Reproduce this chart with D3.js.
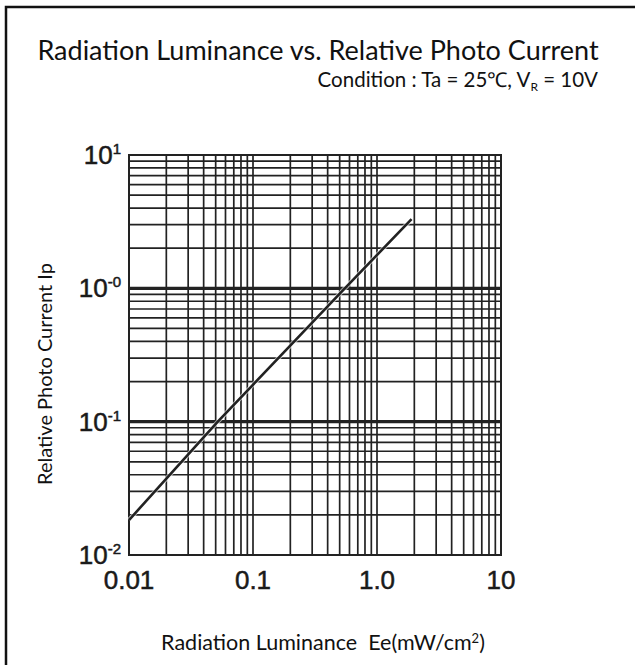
<!DOCTYPE html>
<html lang="en">

<head>
    <meta charset="UTF-8">
    <title>Radiation Luminance vs. Relative Photo Current</title>
    <style>
        body {
            margin: 0;
            background: #fff;
        }

        .title {
            font-family: Lato, "Open Sans", sans-serif;
            fill: #111;
        }

        .tick-label {
            font-family: Arial, "Liberation Sans", Helvetica, "DejaVu Sans", sans-serif;
            fill: #1a1a1a;
            stroke: #1a1a1a;
            stroke-width: 0.5;
        }
    </style>
</head>

<body>
    <svg id="chart" width="635" height="665"></svg>
    <script src="https://d3js.org/d3.v7.min.js"></script>

    <script>
        // data
        const luminance = [0.01, 0.052, 0.55, 1.9];      // Ee (mW/cm2)
        const photoCurrent = [0.0183, 0.1, 1.0, 3.3];   // relative Ip

        const xTickValues = [0.01, 0.1, 1, 10];
        const xTickLabels = ["0.01", "0.1", "1.0", "10"];
        const yTickValues = [10, 1, 0.1, 0.01];
        const yTickExp = ["1", "-0", "-1", "-2"];

        const svg = d3.select("#chart");
        const width = +svg.attr("width");
        const height = +svg.attr("height");

        // plot box
        const margin = { top: 155, right: 134, bottom: 110, left: 129 };
        const innerWidth = width - margin.left - margin.right;
        const innerHeight = height - margin.top - margin.bottom;

        // outer frame (left + top)
        svg.append("path")
            .attr("d", `M6,${height} L6,7 L${width},7`)
            .attr("fill", "none")
            .attr("stroke", "#111")
            .attr("stroke-width", 2.5);

        // titles
        svg.append("text")
            .attr("class", "title")
            .attr("x", 318)
            .attr("y", 60)
            .attr("text-anchor", "middle")
            .attr("font-size", 27)
            .text("Radiation Luminance vs. Relative Photo Current");

        const cond = svg.append("text")
            .attr("class", "title")
            .attr("x", 598)
            .attr("y", 87)
            .attr("text-anchor", "end")
            .attr("font-size", 20.5);
        cond.append("tspan").text("Condition : Ta = 25\u2103, V");
        cond.append("tspan").attr("font-size", 12).attr("dy", 4).text("R");
        cond.append("tspan").attr("dy", -4).text(" = 10V");

        // axis titles
        svg.append("text")
            .attr("class", "title")
            .attr("font-size", 20)
            .attr("text-anchor", "middle")
            .attr("transform", "translate(52, 374) rotate(-90)")
            .text("Relative Photo Current Ip");

        const xt = svg.append("text")
            .attr("class", "title")
            .attr("x", 323)
            .attr("y", 650)
            .attr("text-anchor", "middle")
            .attr("font-size", 21.5);
        xt.append("tspan").text("Radiation Luminance\u00a0\u00a0Ee(mW/cm");
        xt.append("tspan").attr("font-size", 13).attr("dy", -7).text("2");
        xt.append("tspan").attr("dy", 7).text(")");

        const box = svg.append("g")
            .attr("transform", `translate(${margin.left}, ${margin.top})`);

        const x = d3.scaleLog().domain([0.01, 10]).range([0, innerWidth]);
        const y = d3.scaleLog().domain([0.01, 10]).range([innerHeight, 0]);

        // 1..9 inside every decade
        const decadeLines = (lo, hi) => {
            const out = [];
            for (let e = lo; e < hi; e++) {
                for (let k = 1; k <= 9; k++) out.push(k * Math.pow(10, e));
            }
            out.push(Math.pow(10, hi));
            return out;
        };
        const gridX = decadeLines(-2, 1);
        const gridY = decadeLines(-2, 1);

        const gridColor = "#222";

        box.append("g").selectAll("line")
            .data(gridX)
            .join("line")
            .attr("x1", d => x(d))
            .attr("x2", d => x(d))
            .attr("y1", 0)
            .attr("y2", innerHeight)
            .attr("stroke", gridColor)
            .attr("stroke-width", 1.7);

        box.append("g").selectAll("line")
            .data(gridY)
            .join("line")
            .attr("x1", 0)
            .attr("x2", innerWidth)
            .attr("y1", d => y(d))
            .attr("y2", d => y(d))
            .attr("stroke", gridColor)
            .attr("stroke-width", d => (d === 1 || d === 0.1) ? 3.4 : 1.7);

        // border
        box.append("rect")
            .attr("width", innerWidth)
            .attr("height", innerHeight)
            .attr("fill", "none")
            .attr("stroke", gridColor)
            .attr("stroke-width", 2);

        // curve
        const line = d3.line()
            .x(d => x(d[0]))
            .y(d => y(d[1]));

        box.append("path")
            .datum(d3.zip(luminance, photoCurrent))
            .attr("d", line)
            .attr("fill", "none")
            .attr("stroke", "#fff")
            .attr("stroke-width", 4.5)
            .attr("opacity", 0.6);

        box.append("path")
            .datum(d3.zip(luminance, photoCurrent))
            .attr("d", line)
            .attr("fill", "none")
            .attr("stroke", "#222")
            .attr("stroke-width", 2.6);

        // x tick labels
        box.append("g").selectAll("text")
            .data(xTickValues)
            .join("text")
            .attr("class", "tick-label")
            .attr("x", d => x(d))
            .attr("y", innerHeight + 34)
            .attr("text-anchor", "middle")
            .attr("font-size", 26)
            .text((d, i) => xTickLabels[i]);

        // y tick labels, 10 with superscript
        const yl = box.append("g").selectAll("text")
            .data(yTickValues)
            .join("text")
            .attr("class", "tick-label")
            .attr("x", -8)
            .attr("y", d => y(d) + 9)
            .attr("text-anchor", "end")
            .attr("font-size", 26);
        yl.append("tspan").text("10");
        yl.append("tspan")
            .attr("font-size", 15)
            .attr("dy", -10)
            .text((d, i) => yTickExp[i]);
    </script>
</body>

</html>
